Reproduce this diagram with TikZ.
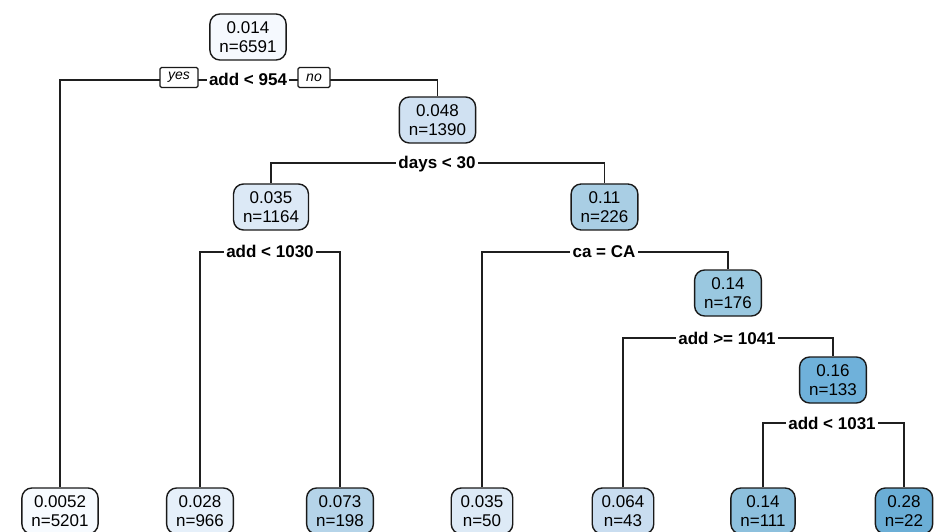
\documentclass[tikz,border=0pt]{standalone}
\usepackage{fontspec}
\setmainfont{Liberation Sans}
\newcommand{\nfont}{\fontsize{17pt}{19.5pt}\selectfont}
\definecolor{cA}{HTML}{F5F9FE}
\definecolor{cB}{HTML}{D0E1F2}
\definecolor{cC}{HTML}{DCE9F6}
\definecolor{cD}{HTML}{A9CEE4}
\definecolor{cE}{HTML}{9AC8E0}
\definecolor{cF}{HTML}{6FB1DA}
\definecolor{lA}{HTML}{F7FBFF}
\definecolor{lB}{HTML}{E6F0FA}
\definecolor{lC}{HTML}{B5D4E9}
\definecolor{lD}{HTML}{DDEAF6}
\definecolor{lE}{HTML}{C9DDF0}
\definecolor{lF}{HTML}{8DC0DD}
\definecolor{lG}{HTML}{6BAED6}
\begin{document}
\begin{tikzpicture}[x=1pt,y=-1pt,
  tnode/.style={draw=black!90, line width=1.4pt, rounded corners=10pt, fill=#1,
    align=center, inner xsep=9.5pt, inner ysep=0pt, minimum height=46pt, font=\nfont},
  split/.style={fill=white, inner xsep=2.5pt, inner ysep=1pt, anchor=base, font=\nfont\bfseries},
  yn/.style={draw=black!90, line width=1.1pt, rounded corners=1.5pt, fill=white,
    inner sep=0pt, minimum height=20pt, font=\fontsize{14pt}{16pt}\selectfont\itshape},
  edge/.style={line width=1.5pt, draw=black!88}]
\useasboundingbox (0,0) rectangle (946,532);
\clip (0,0) rectangle (946,532);
\fill[white] (0,0) rectangle (946,532);

% internal nodes
\node[tnode=cA] (r)  at (248,37)   {0.014\\n=6591};
\node[tnode=cB] (n2) at (437.5,120) {0.048\\n=1390};
\node[tnode=cC] (n3) at (271,207)  {0.035\\n=1164};
\node[tnode=cD] (n4) at (604.5,207) {0.11\\n=226};
\node[tnode=cE] (n5) at (728,293)  {0.14\\n=176};
\node[tnode=cF] (n6) at (833,380)  {0.16\\n=133};
% leaves
\node[tnode=lA] (l1) at (60,511) {0.0052\\n=5201};
\node[tnode=lB] (l2) at (200,511)  {0.028\\n=966};
\node[tnode=lC] (l3) at (340,511)  {0.073\\n=198};
\node[tnode=lD] (l4) at (482,511)  {0.035\\n=50};
\node[tnode=lE] (l5) at (623,511) {0.064\\n=43};
\node[tnode=lF] (l6) at (763,511)  {0.14\\n=111};
\node[tnode=lG] (l7) at (904,511)  {0.28\\n=22};

% split coordinates
\coordinate (s1) at (248,80);
\coordinate (s2) at (437,163);
\coordinate (s3) at (270,252);
\coordinate (s4) at (604,252);
\coordinate (s5) at (727,338);
\coordinate (s6) at (832,423);

% connectors
\draw[edge] (l1.north) |- (s1) -| (n2.north);
\draw[edge] (n3.north) |- (s2) -| (n4.north);
\draw[edge] (l2.north) |- (s3) -| (l3.north);
\draw[edge] (l4.north) |- (s4) -| (n5.north);
\draw[edge] (l5.north) |- (s5) -| (n6.north);
\draw[edge] (l6.north) |- (s6) -| (l7.north);

% split labels
\node[split] (t1) at ([yshift=-6pt]s1) {add < 954};
\node[split] (t2) at ([yshift=-6pt]s2) {days < 30};
\node[split] (t3) at ([yshift=-6pt]s3) {add < 1030};
\node[split] (t4) at ([yshift=-6pt]s4) {ca = CA};
\node[split] (t5) at ([yshift=-6pt]s5) {add >= 1041};
\node[split] (t6) at ([yshift=-6pt]s6) {add < 1031};

% yes / no
\node[yn, minimum width=38pt] (yes) at (179,77.5) {yes};
\node[yn, minimum width=32pt] (no)  at (314,77.5) {no};
\end{tikzpicture}
\end{document}
